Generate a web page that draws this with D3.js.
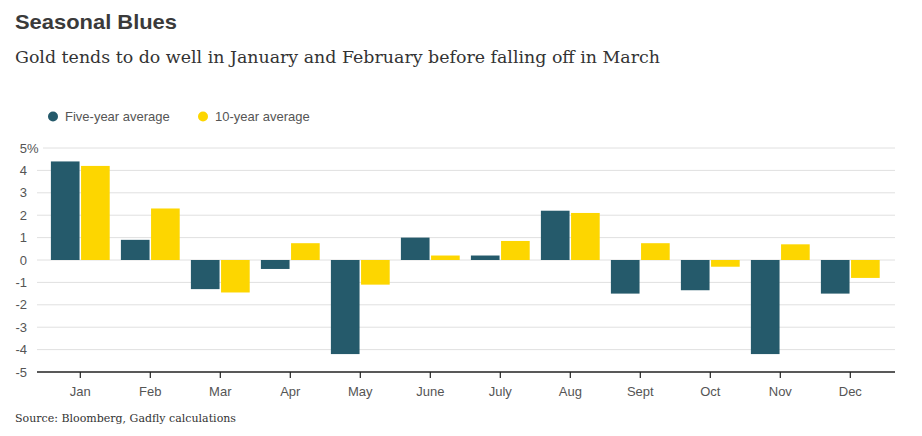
<!DOCTYPE html>
<html>
<head>
<meta charset="utf-8">
<script src="https://cdn.jsdelivr.net/npm/d3@7"></script>
<style>
  html, body { margin: 0; padding: 0; background: #fff; }
  svg { display: block; }
</style>
</head>
<body>
<svg id="chart" width="922" height="436"></svg>
<script>
const months = ["Jan", "Feb", "Mar", "Apr", "May", "June", "July", "Aug", "Sept", "Oct", "Nov", "Dec"];
const fiveYear = [4.4, 0.9, -1.3, -0.4, -4.2, 1.0, 0.2, 2.2, -1.5, -1.35, -4.2, -1.5];
const tenYear = [4.2, 2.3, -1.45, 0.75, -1.1, 0.2, 0.85, 2.1, 0.75, -0.3, 0.7, -0.8];
const seriesNames = ["Five-year average", "10-year average"];
const yTicks = [-5, -4, -3, -2, -1, 0, 1, 2, 3, 4, 5];

const colors = ["#255a6b", "#fdd600"];
const svg = d3.select("#chart");

// Title & subtitle
svg.append("text").attr("x", 15).attr("y", 29)
  .attr("font-family", "Liberation Sans, Arial, sans-serif")
  .attr("font-weight", "bold").attr("font-size", 21).attr("fill", "#3a3a3a")
  .attr("textLength", 162).attr("lengthAdjust", "spacingAndGlyphs")
  .text("Seasonal Blues");
svg.append("text").attr("x", 15).attr("y", 63)
  .attr("font-family", "DejaVu Serif, Georgia, serif")
  .attr("font-size", 17.5).attr("fill", "#333")
  .attr("textLength", 645).attr("lengthAdjust", "spacingAndGlyphs")
  .text("Gold tends to do well in January and February before falling off in March");

// Legend
const legendX = [53, 203];
seriesNames.forEach((n, i) => {
  svg.append("circle").attr("cx", legendX[i]).attr("cy", 116.5).attr("r", 5).attr("fill", colors[i]);
  svg.append("text").attr("x", legendX[i] + 12).attr("y", 121)
    .attr("font-family", "Liberation Sans, Arial, sans-serif")
    .attr("font-size", 13).attr("fill", "#555").text(n);
});

// Scales
const y = d3.scaleLinear().domain([-5, 5]).range([372, 148]);
const x = d3.scaleBand().domain(months).range([45.3, 885.3]).paddingInner(0.16).paddingOuter(0.08);
const xs = d3.scaleBand().domain([0, 1]).range([0, x.bandwidth()]).paddingInner(0.05);

// Gridlines
svg.append("g").selectAll("line").data(yTicks.filter(d => d > -5)).join("line")
  .attr("x1", d => d === 5 ? 43 : 37).attr("x2", 895)
  .attr("y1", d => y(d)).attr("y2", d => y(d))
  .attr("stroke", "#e0e0e0").attr("stroke-width", 1);

// Y labels
const yl = svg.append("g").attr("font-family", "Liberation Sans Narrow, Arial Narrow, Liberation Sans, sans-serif")
  .attr("font-size", 13).attr("fill", "#555");
yl.selectAll("text").data(yTicks).join("text")
  .attr("x", 27).attr("y", d => y(d) + 4.5).attr("text-anchor", "end")
  .text(d => d);
yl.append("text").attr("x", 27).attr("y", y(5) + 4.5).text("%");

// Bars
const data = months.map((m, i) => ({ m, vals: [fiveYear[i], tenYear[i]] }));
const g = svg.append("g");
data.forEach(d => {
  d.vals.forEach((v, k) => {
    g.append("rect")
      .attr("x", x(d.m) + xs(k))
      .attr("width", xs.bandwidth())
      .attr("y", y(Math.max(0, v)))
      .attr("height", Math.abs(y(v) - y(0)))
      .attr("fill", colors[k]);
  });
});

// X axis
const xAxis = d3.axisBottom(x).tickSize(6).tickSizeOuter(0).tickPadding(9);
const ax = svg.append("g").attr("transform", "translate(0,372)").call(xAxis);
ax.select(".domain").remove();
ax.selectAll(".tick line").attr("stroke", "#222").attr("stroke-width", 1.2);
ax.selectAll(".tick text").attr("font-family", "Liberation Sans Narrow, Arial Narrow, Liberation Sans, sans-serif")
  .attr("font-size", 13).attr("fill", "#555");
svg.append("line").attr("x1", 37).attr("x2", 895).attr("y1", 372).attr("y2", 372)
  .attr("stroke", "#222").attr("stroke-width", 1.5);

// Source
svg.append("text").attr("x", 15).attr("y", 422)
  .attr("font-family", "DejaVu Serif, Georgia, serif")
  .attr("font-size", 11).attr("fill", "#333")
  .attr("textLength", 221).attr("lengthAdjust", "spacingAndGlyphs")
  .text("Source: Bloomberg, Gadfly calculations");
</script>
</body>
</html>
